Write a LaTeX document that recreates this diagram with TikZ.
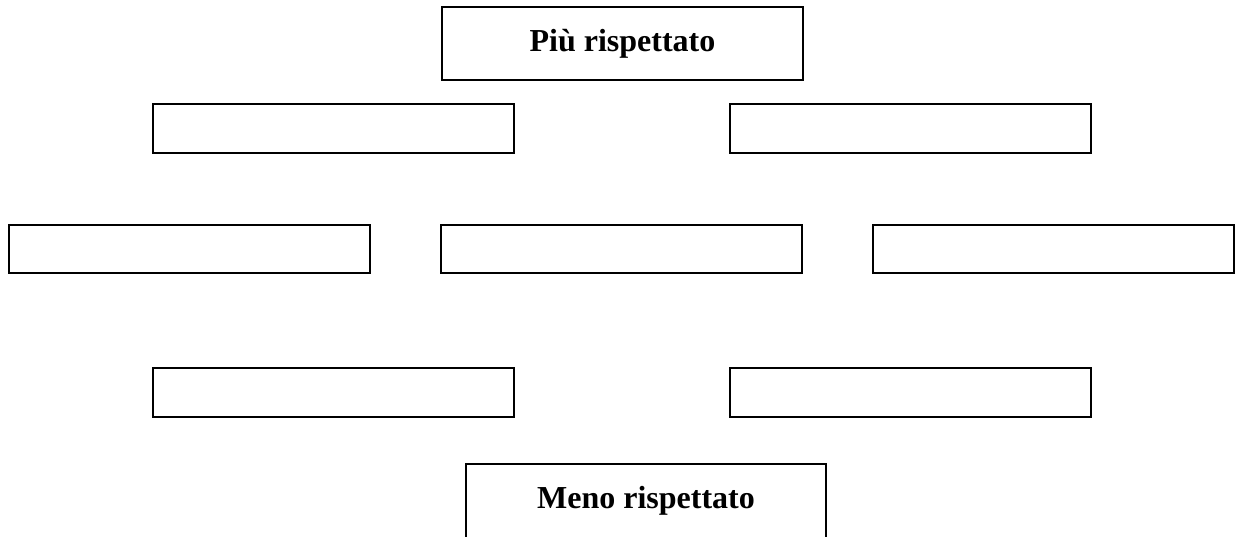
\documentclass[tikz,border=0pt]{standalone}
\usepackage{fontspec}
\setmainfont{Liberation Serif}
\begin{document}
\begin{tikzpicture}[x=1pt,y=-1pt,
  blankbox/.style={draw=black, line width=1.6pt, rectangle, inner sep=0pt,
    minimum width=361pt, minimum height=49pt},
  titlebox/.style={draw=black, line width=1.6pt, rectangle, inner sep=0pt,
    minimum width=361pt, font=\bfseries\fontsize{32}{38}\selectfont,
    text height=22pt}]
\useasboundingbox (0,0) rectangle (1239,536);
% top title
\node[titlebox, minimum height=73pt, text depth=6pt] (top) at (622.5,43.5) {Più rispettato};
% row 2
\node[blankbox] (r2a) at (333.5,128.5) {};
\node[blankbox] (r2b) at (910.5,128.5) {};
% row 3
\node[blankbox, minimum height=48pt] (r3a) at (189.5,249) {};
\node[blankbox, minimum height=48pt] (r3b) at (621.5,249) {};
\node[blankbox, minimum height=48pt] (r3c) at (1053.5,249) {};
% row 4
\node[blankbox] (r4a) at (333.5,392.5) {};
\node[blankbox] (r4b) at (910.5,392.5) {};
% bottom title
\node[titlebox, minimum width=360pt, minimum height=78pt, text depth=12pt] (bottom) at (646,503) {Meno rispettato};
\end{tikzpicture}
\end{document}
